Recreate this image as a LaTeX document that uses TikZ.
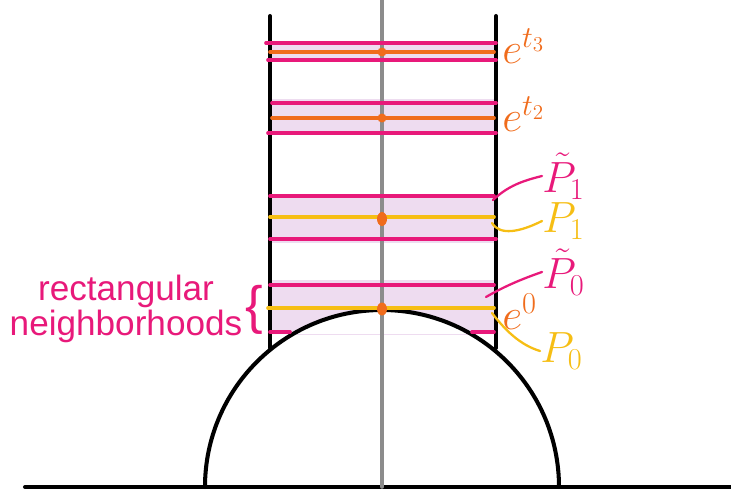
\documentclass[tikz,border=0pt]{standalone}
\usepackage{amsmath}
\usepackage{fontspec}
\setmainfont{Liberation Sans}
\definecolor{hotpink}{RGB}{232,25,122}
\definecolor{lineorange}{RGB}{240,108,28}
\definecolor{lineyellow}{RGB}{246,190,20}
\definecolor{nbhd}{RGB}{238,220,240}
\definecolor{axisgray}{RGB}{140,140,140}

\begin{document}
\begin{tikzpicture}[x=0.02cm,y=-0.02cm,line cap=round,
  wall/.style={black,line width=2.3pt},
  pinkline/.style={hotpink,line width=2.1pt},
  orangeline/.style={lineorange,line width=2.1pt},
  yellowline/.style={lineyellow,line width=2.1pt},
  lead/.style={line width=1.3pt},
  lbl/.style={font=\fontsize{25}{25}\selectfont,inner sep=0pt}]
  \useasboundingbox (0,0) rectangle (731,497);
  \coordinate (O) at (382,487);
  % shaded neighbourhoods
  \fill[nbhd] (270,43) rectangle (496,60);
  \fill[nbhd] (272,99) rectangle (494,131);
  \fill[nbhd] (270,196) rectangle (494,243);
  \begin{scope}
    \clip (270,280) rectangle (494,334);
    \fill[nbhd,even odd rule] (270,280) rectangle (494,334) (O) circle (177);
  \end{scope}
  % axes and walls
  \draw[wall] (25,487) -- (731,487);
  \draw[axisgray,line width=2pt] (382,0) -- (382,487);
  \draw[wall] (270,16) -- (270,348); \draw[wall] (496,16) -- (496,348);
  \draw[wall] (205,487) arc[start angle=180,end angle=360,radius=177];
  % levels
  \draw[pinkline] (266,43) -- (496,43); \draw[orangeline] (270,52) -- (494,52); \draw[pinkline] (268,60) -- (496,60);
  \draw[pinkline] (272,103) -- (496,103); \draw[orangeline] (272,118) -- (494,118); \draw[pinkline] (268,133) -- (496,133);
  \draw[pinkline] (270,196) -- (494,196); \draw[yellowline] (270,217) -- (494,217); \draw[pinkline] (270,239) -- (496,239);
  \draw[pinkline] (270,285) -- (494,285); \draw[yellowline] (268,308) -- (494,308);
  \draw[pinkline] (270,332) -- (290,332); \draw[pinkline] (472,332) -- (494,332);
  \fill[lineorange] (382,52) circle (4.5); \fill[lineorange] (382,118) circle (4.5);
  \fill[lineorange] (382,219) ellipse (5 and 7); \fill[lineorange] (382,309) ellipse (5 and 6.5);
  % labels
  \node[lbl,text=lineorange,anchor=west] (t3) at (502,46) {$e^{t_3}$};
  \node[lbl,text=lineorange,anchor=west] (t2) at (502,114) {$e^{t_2}$};
  \node[lbl,text=hotpink,anchor=west] (pt1) at (542,176) {$\tilde{P}_1$};
  \node[lbl,text=lineyellow,anchor=west] (p1) at (542,221) {$P_1$};
  \node[lbl,text=hotpink,anchor=west] (pt0) at (542,272) {$\tilde{P}_0$};
  \node[lbl,text=lineorange,anchor=west] (e0) at (502,312) {$e^{0}$};
  \node[lbl,text=lineyellow,anchor=west] (p0) at (540,351) {$P_0$};
  \draw[lead,hotpink] (493,200) .. controls (508,186) and (522,181) .. (pt1.west);
  \draw[lead,lineyellow] (492,223) .. controls (500,236) and (520,232) .. (p1.west);
  \draw[lead,hotpink] (486,297) .. controls (505,286) and (522,279) .. (pt0.west);
  \draw[lead,lineyellow] (492,313) .. controls (505,330) and (520,345) .. (p0.west);
  \node[text=hotpink,align=center,font=\fontsize{20}{18}\selectfont] (nb) at (126,309) {rectangular\\neighborhoods};
  \node[text=hotpink,font=\fontsize{30}{30}\selectfont,inner sep=0pt] (br) at (254,310) {\{};
\end{tikzpicture}
\end{document}
